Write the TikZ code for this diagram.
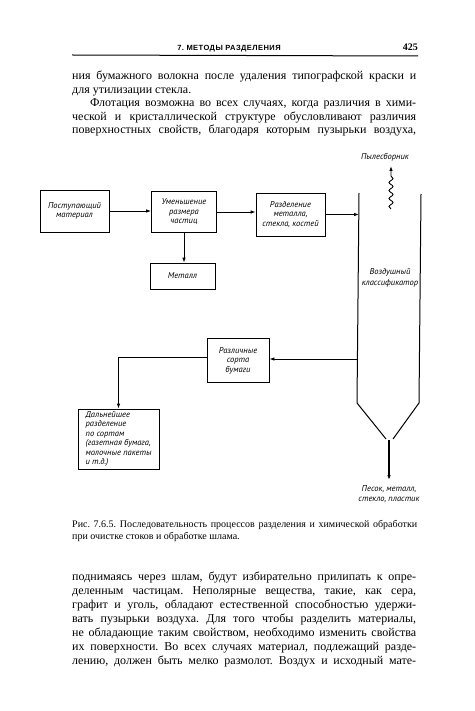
\documentclass[tikz,border=0pt]{standalone}
\usepackage{fontspec}
\setmainfont{Liberation Serif}
\newfontfamily\labelfont{PT Sans}
\newfontfamily\headfont[LetterSpace = 6]{Liberation Sans}
\usetikzlibrary{arrows.meta, decorations.pathmorphing, positioning}
\frenchspacing

\begin{document}
\begin{tikzpicture}[x = 1pt, y = -1pt]%
    %
    \def\colwidth{344pt}%
    %
    \tikzstyle{box} = [rectangle, draw = black, line width = .8pt, inner sep = 0pt, align = center, font = \labelfont\itshape\fontsize{8.5}{9.5}\selectfont]%
    \tikzstyle{tag} = [inner sep = 0pt, align = center, font = \labelfont\itshape\fontsize{8.5}{10.5}\selectfont]%
    \tikzstyle{arrow} = [-{Latex[length = 5pt, width = 3.5pt]}, line width = .9pt, draw = black]%
    \tikzstyle{wall} = [line width = 1pt, draw = black]%
    \tikzstyle{body} = [anchor = base west, inner sep = 0pt, font = \fontsize{12}{14}\selectfont]%
    \tikzstyle{caption} = [anchor = base west, inner sep = 0pt, font = \fontsize{10}{12}\selectfont]%
    %
    \def\fullline(#1)(#2)#3{% Syntax: (name)(baseline) {text}, justified
        \node [body] (#1) at (72, #2) {\makebox[\colwidth][s]{#3}};%
    }%
    \def\lastline(#1)(#2)#3{% Syntax: (name)(baseline) {text}, ragged
        \node [body] (#1) at (72, #2) {#3};%
    }%
    %
    \useasboundingbox [fill = white] (0, 0) rectangle (474, 711);%
    %
    % running head
    \node [anchor = base, inner sep = 0pt, font = \headfont\bfseries\fontsize{7.5}{9}\selectfont] (head) at (229, 51) {7. МЕТОДЫ РАЗДЕЛЕНИЯ};%
    \node [anchor = base east, inner sep = 0pt, font = \bfseries\fontsize{10}{12}\selectfont] (pageno) at (418, 51) {425};%
    \coordinate (ruleleft) at (72, 55);%
    \coordinate (ruleright) at (418, 56);%
    \draw [line width = 1pt] (ruleleft) -- (ruleright);%
    %
    % text above the figure
    \fullline(upper1)(80){ния бумажного волокна после удаления типографской краски и}%
    \lastline(upper2)(94){для утилизации стекла.}%
    \fullline(upper3)(107){\hspace*{18pt}Флотация возможна во всех случаях, когда различия в хими-}%
    \fullline(upper4)(121){ческой и кристаллической структуре обусловливают различия}%
    \fullline(upper5)(134){поверхностных свойств, благодаря которым пузырьки воздуха,}%
    %
    % flow sheet
    \node [box, minimum width = 69pt, minimum height = 42pt] (input) at (74.5, 211) {Поступающий\\материал};%
    \node [box, minimum width = 65pt, minimum height = 41pt] (grinder) at (184, 212) {Уменьшение\\размера\\частиц};%
    \node [box, minimum width = 69pt, minimum height = 43pt] (separator) at (290.5, 214.5) {Разделение\\металла,\\стекла, костей};%
    \node [box, minimum width = 65pt, minimum height = 26pt] (metal) at (182.5, 276) {Металл};%
    \node [box, minimum width = 62pt, minimum height = 44pt] (paper) at (238, 360.5) {Различные\\сорта\\бумаги};%
    \node [box, minimum width = 81pt, minimum height = 60pt, align = left] (sorting) at (118.5, 439) {Дальнейшее\\разделение\\по сортам\\(газетная бумага,\\молочные пакеты\\и т.д.)};%
    %
    % air classifier
    \coordinate (lefttop) at (359, 193);%
    \coordinate (righttop) at (421, 194);%
    \coordinate (leftbottom) at (357, 403);%
    \coordinate (rightbottom) at (419, 403);%
    \coordinate (leftspout) at (386, 439);%
    \coordinate (rightspout) at (393, 439);%
    \draw [wall] (lefttop) -- (leftbottom) -- (leftspout);%
    \draw [wall] (righttop) -- (rightbottom) -- (rightspout);%
    \node [tag] (classifier) at (390, 278) {Воздушный\\классификатор};%
    %
    \coordinate (dustfoot) at (391, 209);%
    \coordinate (dusttop) at (391, 166);%
    \draw [arrow, decorate, decoration = {snake, amplitude = 2pt, segment length = 8pt, post length = 7pt}] (dustfoot) -- (dusttop);%
    \node [tag] (dust) at (385, 157) {Пылесборник};%
    %
    \coordinate (spout) at (389, 440);%
    \coordinate (residue) at (389, 480);%
    \draw [arrow, line width = 1.6pt] (spout) -- (residue);%
    \node [tag, below = 5pt of residue] (sand) {Песок, металл,\\стекло, пластик};%
    %
    \draw [arrow] (input.east) -- (input.east -| grinder.west);%
    \draw [arrow] (grinder.east) -- (grinder.east -| separator.west);%
    \draw [arrow, line width = 1.2pt] (separator.east) -- (separator.east -| lefttop);%
    \draw [arrow] (grinder.south) -- (grinder.south |- metal.north);%
    \coordinate (paperexit) at (358, 359);%
    \draw [arrow] (paperexit) -- (paperexit -| paper.east);%
    \draw [arrow] ([yshift = 3pt] paper.west) -| (sorting.north);%
    %
    % caption
    \node [caption] (caption1) at (72, 527) {\makebox[345pt][s]{Рис. 7.6.5. Последовательность процессов разделения и химической обработки}};%
    \node [caption] (caption2) at (72, 539) {при очистке стоков и обработке шлама.};%
    %
    % text below the figure
    \fullline(lower1)(580){поднимаясь через шлам, будут избирательно прилипать к опре-}%
    \fullline(lower2)(594){деленным частицам. Неполярные вещества, такие, как сера,}%
    \fullline(lower3)(608){графит и уголь, обладают естественной способностью удержи-}%
    \fullline(lower4)(622){вать пузырьки воздуха. Для того чтобы разделить материалы,}%
    \fullline(lower5)(636){не обладающие таким свойством, необходимо изменить свойства}%
    \fullline(lower6)(650){их поверхности. Во всех случаях материал, подлежащий разде-}%
    \fullline(lower7)(664){лению, должен быть мелко размолот. Воздух и исходный мате-}%
\end{tikzpicture}
\end{document}
